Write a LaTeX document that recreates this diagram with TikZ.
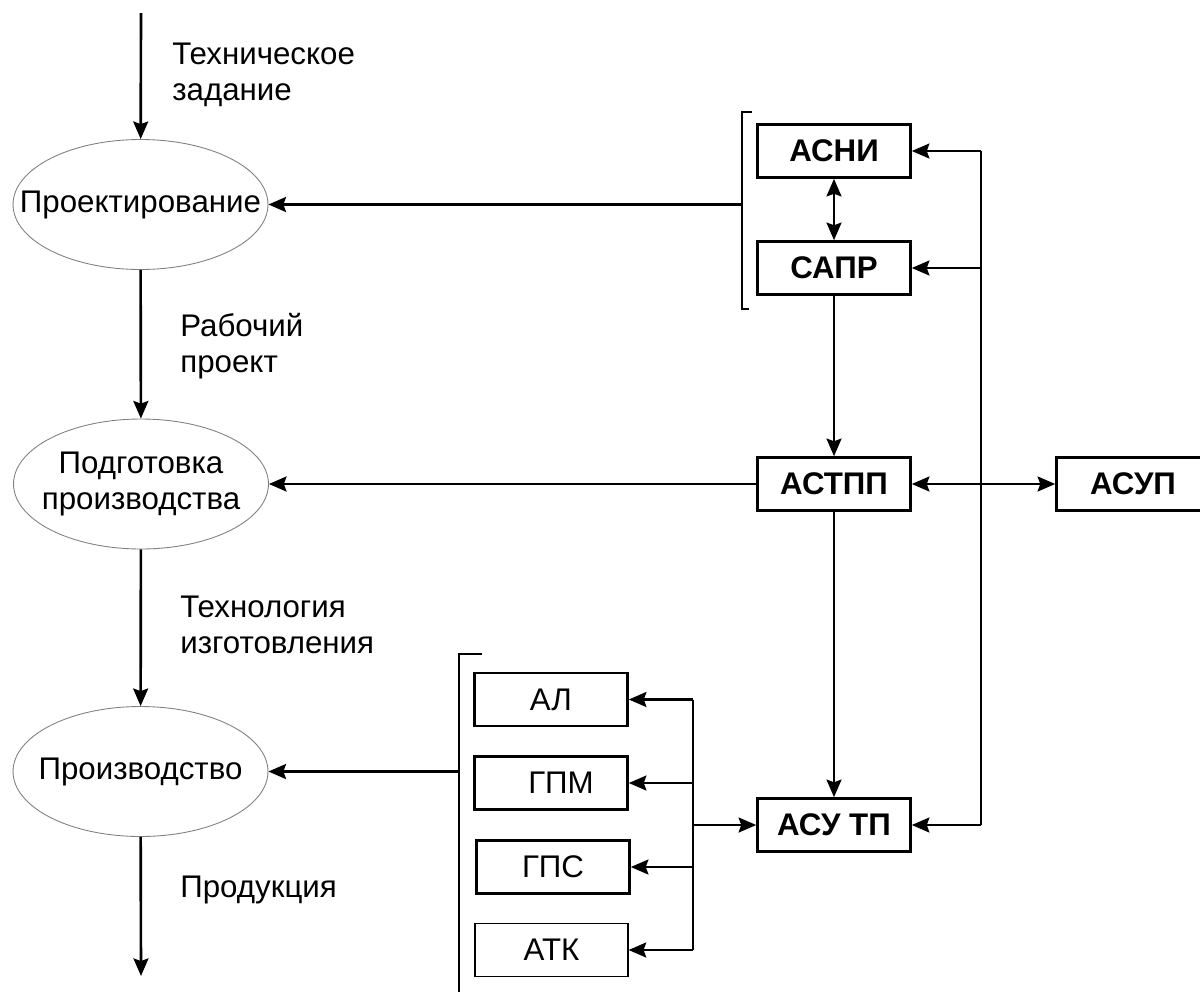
\documentclass[tikz,border=0pt]{standalone}
\usepackage{fontspec}
\setmainfont{Liberation Sans}
\usetikzlibrary{arrows.meta,shapes.geometric}
\newcommand{\diagfont}{\fontsize{17.8pt}{20pt}\selectfont}
\tikzset{
    stage/.style = {
        draw = gray,
        line width = 0.5pt,
        ellipse,
        minimum width = 5.1cm,
        minimum height = 2.6cm,
        inner sep = 0pt,
        },
    stage text/.style = {
        align = center,
        inner sep = 0pt,
        },
    sys/.style = {
        draw,
        line width = 1.5pt,
        rectangle,
        minimum width = 3.06cm,
        minimum height = 1.06cm,
        inner sep = 0pt,
        font = \diagfont\bfseries,
        },
    unit/.style = {
        sys,
        font = \diagfont\mdseries,
        },
    thin unit/.style = {
        unit,
        line width = 0.7pt,
        },
    flow/.style = {
        align = left,
        anchor = base west,
        inner sep = 0pt,
        },
    link/.style = {
        line width = 1.5pt,
        },
    arr/.style = {
        link,
        -{Stealth[length=10pt,width=8.5pt,inset=1.5pt]},
        },
    both/.style = {
        link,
        {Stealth[length=10pt,width=8.5pt,inset=1.5pt]}-{Stealth[length=10pt,width=8.5pt,inset=1.5pt]},
        },
}

\begin{document}
\begin{tikzpicture}[x=0.02cm, y=-0.02cm, font=\diagfont]
            \clip (0,0) rectangle (1200,991);

            % stages
            \node[stage] (proj) at (140.5,204.5) {};
            \node[stage text] (projtxt) at (proj) {Проектирование};
            \node[stage] (podg) at (141,484) {};
            \node[stage text] (podgtxt) at (podg) {Подготовка\\производства};
            \node[stage] (proizv) at (140.5,771.5) {};
            \node[stage text] (proizvtxt) at (proizv) {Производство};

            \coordinate (tin) at (141,13);
            \coordinate (tout) at (141,976);

            \node[flow] (tz) at (172,100) {Техническое\\задание};
            \node[flow] (rp) at (180,372) {Рабочий\\проект};
            \node[flow] (ti) at (180,653) {Технология\\изготовления};
            \node[flow] (pr) at (180,897) {Продукция};

            % systems
            \node[sys] (asni) at (834,151) {АСНИ};
            \node[sys] (sapr) at (834,268) {САПР};
            \node[sys] (astpp) at (834,484) {АСТПП};
            \node[sys] (asup) at (1133,484) {АСУП};
            \node[sys] (asutp) at (834,825) {АСУ ТП};

            \node[unit] (al) at (551,699.5) {АЛ};
            \node[unit] (gpm) at (551,783) {\hspace*{0.4cm}ГПМ};
            \node[unit] (gps) at (553,867) {ГПС};
            \node[thin unit] (atk) at (551.5,950) {АТК};

            % brackets
            \coordinate (b1top) at (752,112);
            \coordinate (b1bot) at (749,309);
            \coordinate (b1mid) at (742,204.5);
            \draw[link] (b1top) -| (b1mid) |- (b1bot);
            \coordinate (b2top) at (482,654);
            \coordinate (b2bot) at (459,995);
            \coordinate (b2mid) at (459,771.5);
            \draw[link] (b2top) -| (b2bot);

            % main flow
            \path (tin) edge[arr] (proj);
            \path (proj) edge[arr] (podg);
            \path (podg) edge[arr] (proizv);
            \path (proizv) edge[arr] (tout);

            \path (b1mid) edge[arr] (proj);
            \path (astpp) edge[arr] (podg);
            \path (b2mid) edge[arr] (proizv);

            \path (asni) edge[both] (sapr);
            \path (sapr) edge[arr] (astpp);
            \path (astpp) edge[arr] (asutp);
            \path (astpp) edge[both] (asup);

            % feedback line
            \coordinate (r1) at (981,151);
            \coordinate (r2) at (981,268);
            \coordinate (r3) at (981,825);
            \draw[link] (r1) -- (r3);
            \path (r1) edge[arr] (asni);
            \path (r2) edge[arr] (sapr);
            \path (r3) edge[arr] (asutp);

            % bus
            \coordinate (s1) at (693,699.5);
            \coordinate (s2) at (693,783);
            \coordinate (s3) at (693,867);
            \coordinate (s4) at (693,950);
            \coordinate (s5) at (693,825);
            \draw[link] (s1) -- (s4);
            \path (s1) edge[arr] (al);
            \path (s2) edge[arr] (gpm);
            \path (s3) edge[arr] (gps);
            \path (s4) edge[arr] (atk);
            \path (s5) edge[arr] (asutp);
        \end{tikzpicture}
\end{document}
